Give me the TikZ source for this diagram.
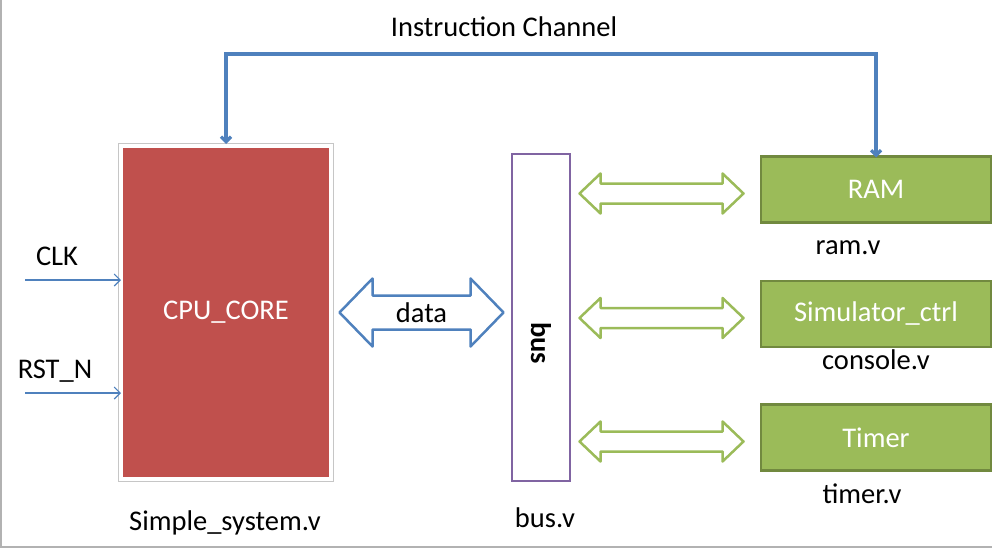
\documentclass[tikz,border=0pt]{standalone}
\usepackage{fontspec}
\setmainfont{Carlito}
\usetikzlibrary{arrows.meta,calc}
\definecolor{cpured}{HTML}{C0504D}
\definecolor{linkblue}{HTML}{4F81BD}
\definecolor{buspurple}{HTML}{8064A2}
\definecolor{modgreen}{HTML}{9BBB59}
\definecolor{modedge}{HTML}{71893F}
% #1 centre, #2 half length, #3 head length, #4 head half height, #5 shaft half height
\newcommand{\dblarrow}[5]{%
  (#1) ++({-#2},0) -- ++({#3},{-#4}) -- ++(0,{#4-#5}) -- ++({2*#2-2*#3},0)
  -- ++(0,{#5-#4}) -- ++({#3},{#4}) -- ++({-#3},{#4}) -- ++(0,{#5-#4})
  -- ++({2*#3-2*#2},0) -- ++(0,{#4-#5}) -- cycle}
\begin{document}
\begin{tikzpicture}[x=1pt,y=-1pt,
    every node/.style={font=\fontsize{28.5}{32}\selectfont, inner sep=0pt, outer sep=0pt},
    sig/.style={draw=linkblue, line width=1.1pt, -{Straight Barb[length=6pt,width=12pt]}},
    chan/.style={draw=linkblue, line width=3.2pt, {Straight Barb[length=5pt,width=10pt]}-{Straight Barb[length=5pt,width=10pt]}},
    module/.style={rectangle, fill=modgreen, draw=modedge, line width=2.5pt,
      minimum width=230pt, minimum height=66pt, text=white},
    link/.style={draw=modgreen, fill=white, line width=2.5pt, line join=round},
    datalink/.style={draw=linkblue, fill=white, line width=2.5pt, line join=round}]

      \useasboundingbox (0,0) rectangle (992,549);
      \draw[gray!60, line width=1.5pt] (1,0) -- (1,547) -- (992,547);

      \node[rectangle, fill=cpured, draw=white, line width=4pt,
        preaction={draw=gray!45, line width=6pt},
        minimum width=210pt, minimum height=333pt, text=white] (cpu) at (226,312.5) {CPU\_CORE};
      \node[rectangle, draw=buspurple, line width=2.6pt,
        minimum width=58pt, minimum height=327pt] (bus) at (541,317.5) {};
      \node[rotate=-90, font=\fontsize{28.5}{32}\selectfont\bfseries] (bustext) at (541,343) {bus};

      \node[module] (ram)   at (876,189.5) {RAM};
      \node[module] (sim)   at (876,314)   {Simulator\_ctrl};
      \node[module] (timer) at (876,437.5) {Timer};

      \node (title) at (504,27)  {Instruction Channel};
      \node (clk)   at (57,256)  {CLK};
      \node (rst)   at (55,371)  {RST\_N};
      \node (sysv)  at (225,523) {Simple\_system.v};
      \node (busv)  at (545,518) {bus.v};
      \node (ramv)  at (848,248) {ram.v};
      \node (conv)  at (876,360) {console.v};
      \node (timv)  at (862,494) {timer.v};

      \coordinate (clkin) at (25,280);
      \coordinate (rstin) at (25,393);
      \coordinate (top)   at (550,54);

      \draw[sig] (clkin) -- (clkin -| cpu.west);
      \draw[sig] (rstin) -- (rstin -| cpu.west);
      \draw[chan] ([yshift=2pt]cpu.north) |- (top) -| ([yshift=-1pt]ram.north);

      \coordinate (datamid) at ($(cpu.east)!0.5!(bus.west |- cpu.east)$);
      \draw[datalink] \dblarrow{datamid}{82}{33}{34}{17};
      \node (data) at (datamid) {data};

      \foreach \m in {ram,sim,timer}{
        \coordinate (mid-\m) at ($(bus.east |- \m.west)!0.5!(\m.west)+(-4,4)$);
        \draw[link] \dblarrow{mid-\m}{82}{21}{20}{10};
      }

    \end{tikzpicture}
\end{document}
